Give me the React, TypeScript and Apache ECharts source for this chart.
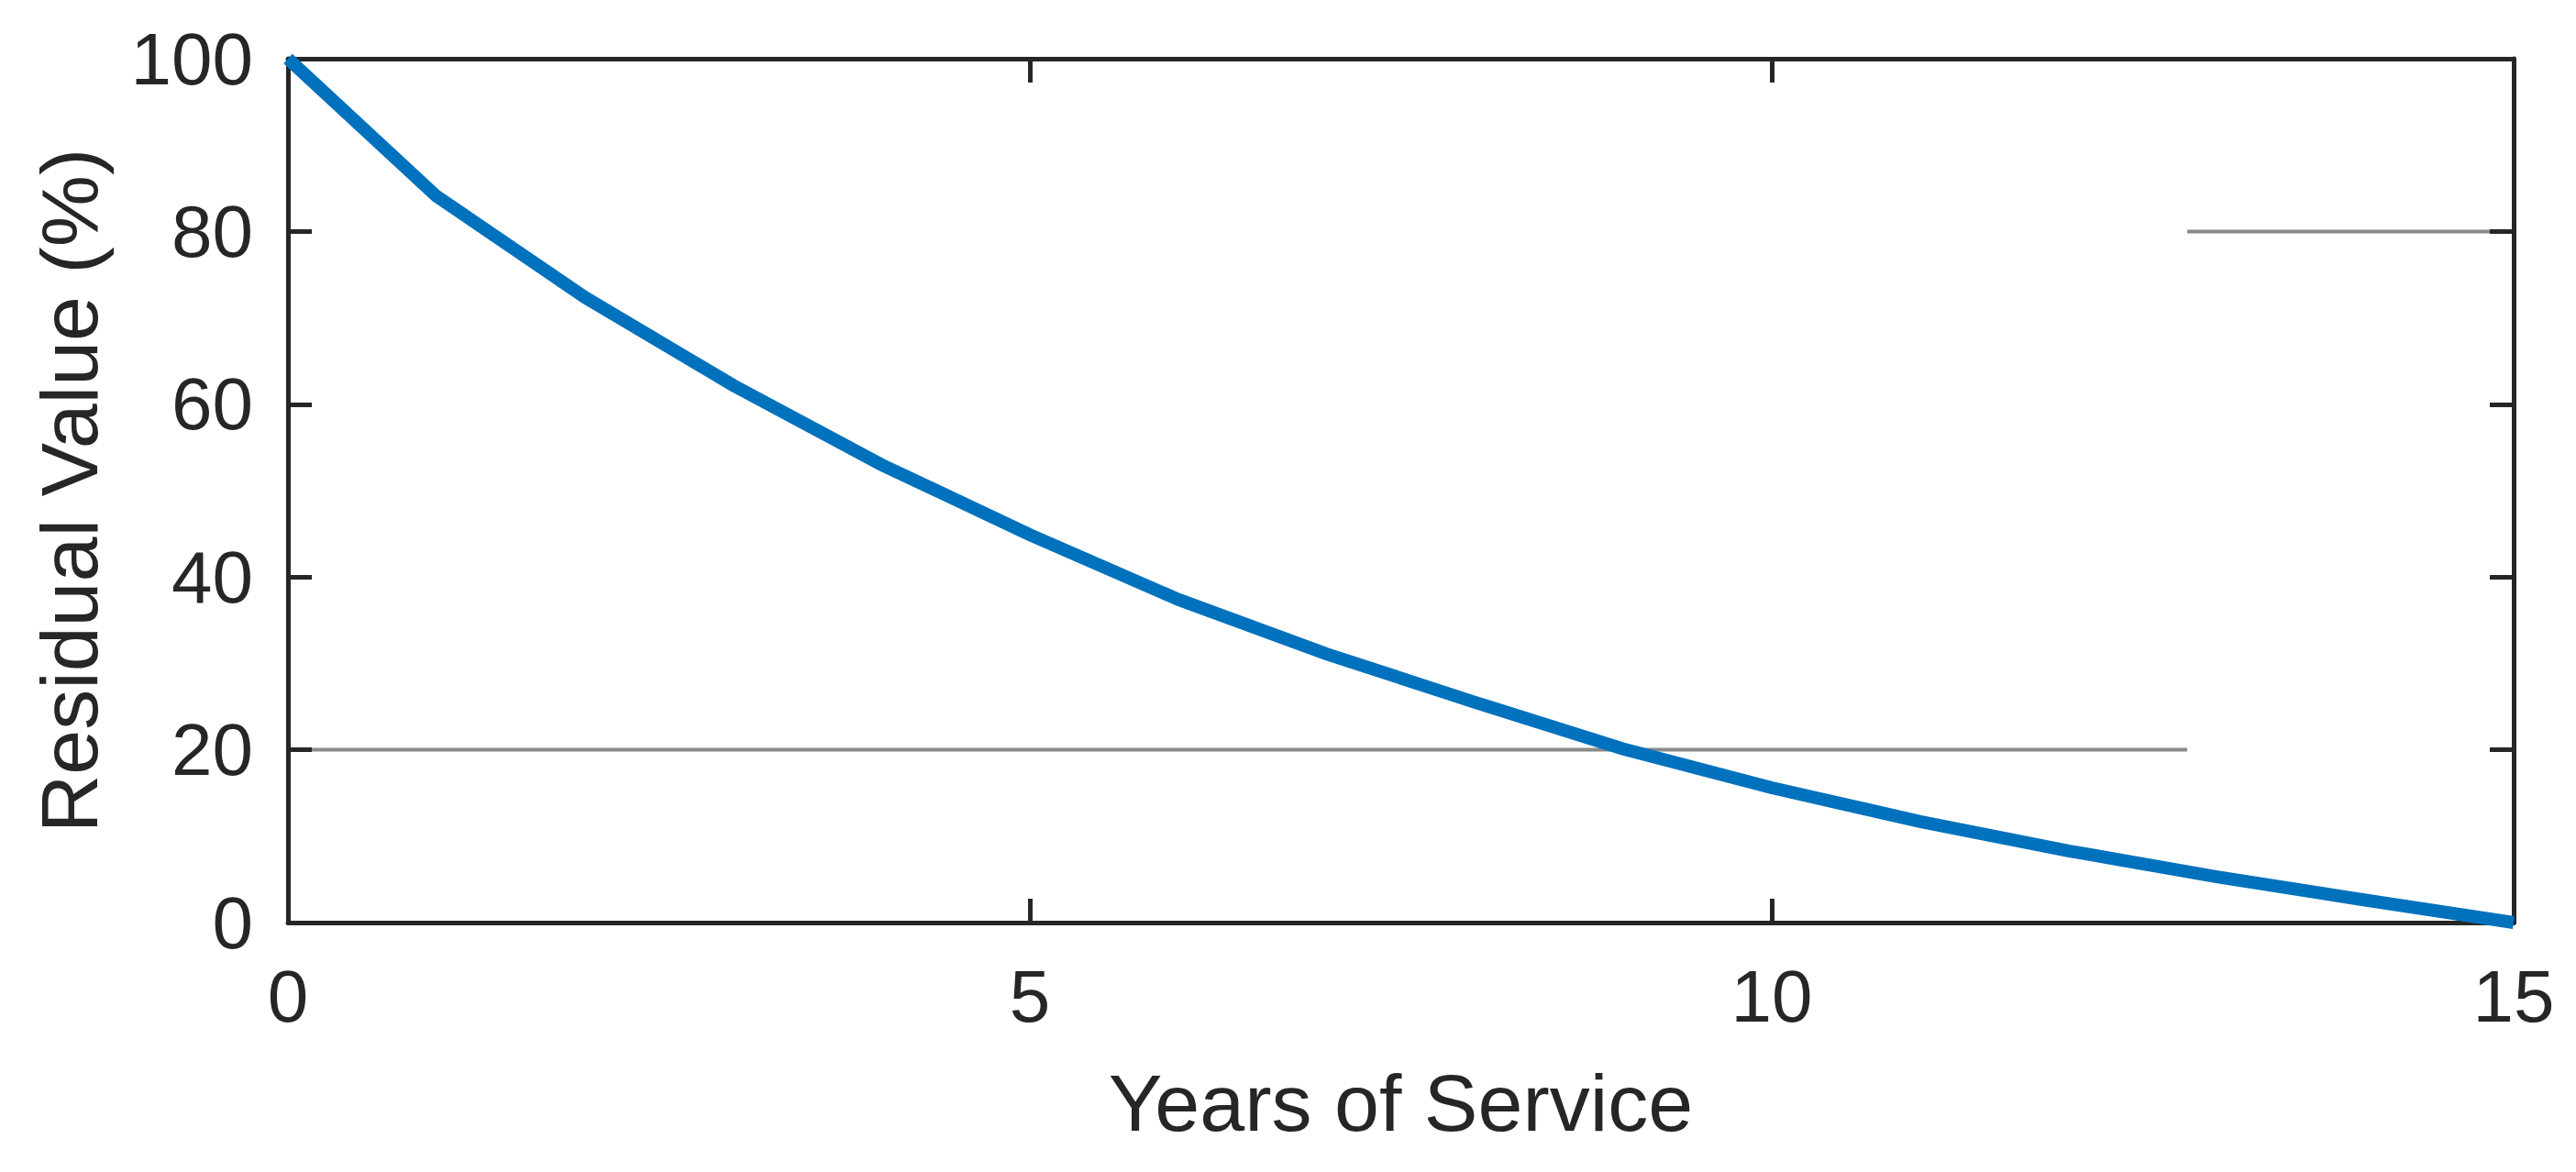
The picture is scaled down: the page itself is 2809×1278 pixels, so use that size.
import React, { useEffect, useRef } from "react";
import * as echarts from "echarts";

// Data
const years = [0, 1, 2, 3, 4, 5, 6, 7, 8, 9, 10, 11, 12, 13, 14, 15];
const residualValue = [100, 84.1, 72.4, 62.2, 53.0, 44.9, 37.4, 31.1, 25.5, 20.1, 15.6, 11.7, 8.3, 5.3, 2.6, 0];
const lowRefX = [0, 12.8];
const lowRefY = [20, 20];
const highRefX = [12.8, 15];
const highRefY = [80, 80];
const xTicks = [0, 5, 10, 15];
const yTicks = [0, 20, 40, 60, 80, 100];

const W = 2809;
const H = 1278;
const FONT = "'Liberation Sans', Arial, Helvetica, sans-serif";
const INK = "#262626";

export default function App() {
  const ref = useRef<HTMLDivElement>(null);

  useEffect(() => {
    if (!ref.current) return;
    const chart = echarts.init(ref.current, undefined, { renderer: "svg" });

    const axisLine = { show: true, onZero: false, lineStyle: { color: INK, width: 5 } };
    const axisTick = { show: true, inside: true, length: 26, lineStyle: { color: INK, width: 5 } };

    const option = {
      animation: false,
      backgroundColor: "#ffffff",
      grid: { left: 314, right: W - 2741, top: 64, bottom: H - 1006, containLabel: false },
      xAxis: [
        {
          type: "value",
          position: "bottom",
          min: xTicks[0],
          max: xTicks[xTicks.length - 1],
          interval: 5,
          z: 2,
          axisLine,
          axisTick,
          splitLine: { show: false },
          axisLabel: { show: true, margin: 40, fontSize: 80, fontFamily: FONT, color: INK },
          name: "Years of Service",
          nameLocation: "middle",
          nameGap: 152,
          nameTextStyle: { fontSize: 88, fontFamily: FONT, color: INK },
        },
        {
          type: "value",
          position: "top",
          min: xTicks[0],
          max: xTicks[xTicks.length - 1],
          interval: 5,
          z: 2,
          axisLine,
          axisTick,
          splitLine: { show: false },
          axisLabel: { show: false },
        },
      ],
      yAxis: [
        {
          type: "value",
          position: "left",
          min: yTicks[0],
          max: yTicks[yTicks.length - 1],
          interval: 20,
          z: 2,
          axisLine,
          axisTick,
          splitLine: { show: false },
          axisLabel: { show: true, margin: 38, fontSize: 80, fontFamily: FONT, color: INK },
          name: "Residual Value (%)",
          nameLocation: "middle",
          nameGap: 195,
          nameTextStyle: { fontSize: 88, fontFamily: FONT, color: INK },
        },
        {
          type: "value",
          position: "right",
          min: yTicks[0],
          max: yTicks[yTicks.length - 1],
          interval: 20,
          z: 2,
          axisLine,
          axisTick,
          splitLine: { show: false },
          axisLabel: { show: false },
        },
      ],
      series: [
        {
          type: "line",
          xAxisIndex: 0,
          yAxisIndex: 0,
          data: lowRefX.map((x, i) => [x, lowRefY[i]]),
          showSymbol: false,
          symbol: "none",
          z: 1,
          lineStyle: { color: "#8a8a8a", width: 4 },
          silent: true,
        },
        {
          type: "line",
          xAxisIndex: 0,
          yAxisIndex: 0,
          data: highRefX.map((x, i) => [x, highRefY[i]]),
          showSymbol: false,
          symbol: "none",
          z: 1,
          lineStyle: { color: "#8a8a8a", width: 4 },
          silent: true,
        },
        {
          type: "line",
          xAxisIndex: 0,
          yAxisIndex: 0,
          data: years.map((x, i) => [x, residualValue[i]]),
          showSymbol: false,
          symbol: "none",
          clip: false,
          z: 5,
          lineStyle: { color: "#0072BD", width: 14, cap: "butt", join: "miter" },
        },
      ],
    };

    chart.setOption(option as any);
    return () => chart.dispose();
  }, []);

  return (
    <div
      ref={ref}
      style={{ position: "fixed", left: 0, top: 0, width: W, height: H, background: "#fff" }}
    />
  );
}
